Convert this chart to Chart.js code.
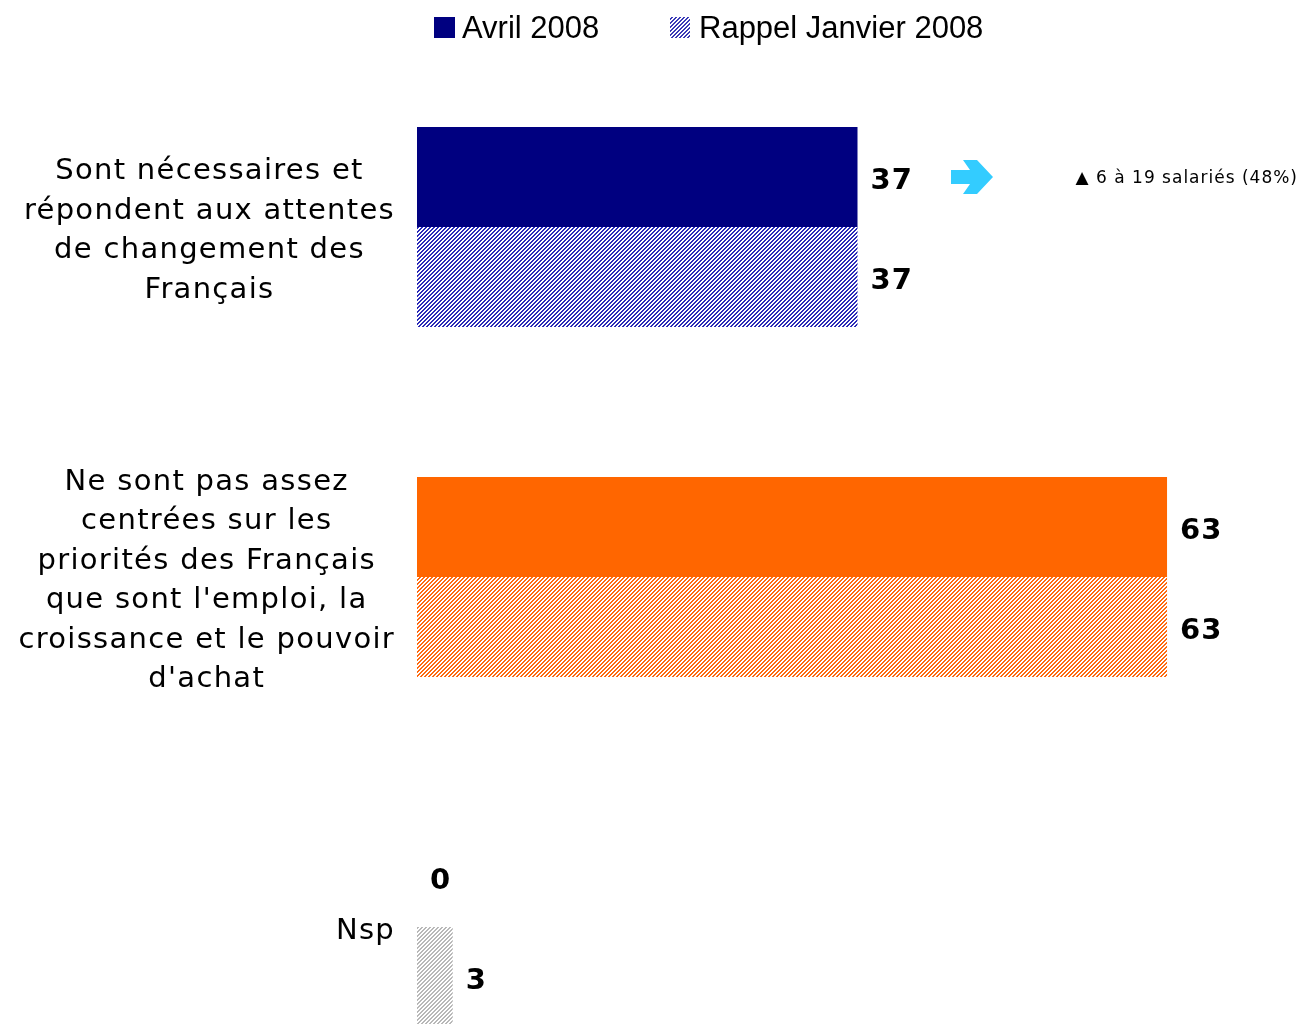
<!DOCTYPE html>
<html>
<head>
<meta charset="utf-8">
<script src="https://cdn.jsdelivr.net/npm/chart.js@4.4.0/dist/chart.umd.min.js"></script>
<style>
  html, body { margin: 0; padding: 0; background: #fff; overflow: hidden; }
  #wrap { width: 1301px; height: 1110px; position: relative; }
</style>
</head>
<body>
<div id="wrap"><canvas id="chart"></canvas></div>
<script>
// data
const categories = [
  ['Sont nécessaires et', 'répondent aux attentes', 'de changement des', 'Français'],
  ['Ne sont pas assez', 'centrées sur les', 'priorités des Français', "que sont l'emploi, la", 'croissance et le pouvoir', "d'achat"],
  ['Nsp']
];
const seriesNames = ['Avril 2008', 'Rappel Janvier 2008'];
const avril = [37, 63, 0];
const janvier = [37, 63, 3];
const annotation = '\u25B2 6 à 19 salariés (48%)';

// colours per category
const solidColors = ['#000080', '#FF6600', '#C0C0C0'];
const hatchColors = ['#2a2ab8', '#FF6a10', '#b8b8b8'];

// diagonal hatch "////" on white, about half covered
function hatch(color) {
  const c = document.createElement('canvas');
  c.width = 4; c.height = 4;
  const g = c.getContext('2d');
  g.fillStyle = '#ffffff';
  g.fillRect(0, 0, 4, 4);
  g.fillStyle = color;
  for (let x = 0; x < 4; x++) {
    for (let y = 0; y < 4; y++) {
      if ((x + y) % 4 < 2) g.fillRect(x, y, 1, 1);
    }
  }
  return g.createPattern(c, 'repeat');
}

const ctx = document.getElementById('chart').getContext('2d');
const hatchPatterns = hatchColors.map(hatch);

const labelFont = '29px "DejaVu Sans", Verdana, sans-serif';
const valueFont = 'bold 29px "DejaVu Sans", Verdana, sans-serif';

// draws category labels, value labels, legend and the side note
const decorations = {
  id: 'decorations',
  afterDraw(chart) {
    const g = chart.ctx;
    const yScale = chart.scales.y;
    g.save();

    // category labels: each block centred, block right edge on a common line
    g.font = labelFont;
    g.letterSpacing = '1.3px';
    g.fillStyle = '#000';
    g.textBaseline = 'middle';
    g.textAlign = 'center';
    const rightEdge = 395, lineH = 39.5;
    categories.forEach((lines, i) => {
      const yc = yScale.getPixelForValue(i) + 4;
      const w = Math.max(...lines.map(l => g.measureText(l).width));
      const cx = rightEdge - w / 2;
      lines.forEach((l, k) => {
        g.fillText(l, cx, yc + (k - (lines.length - 1) / 2) * lineH);
      });
    });

    // values at the end of each bar
    g.font = valueFont;
    g.letterSpacing = '1px';
    g.textAlign = 'left';
    chart.data.datasets.forEach((ds, di) => {
      chart.getDatasetMeta(di).data.forEach((bar, i) => {
        g.fillText(String(ds.data[i]), bar.x + 13, bar.y + 4);
      });
    });

    // arrow + note next to first bar
    const b0 = chart.getDatasetMeta(0).data[0];
    const ay = b0.y;
    g.fillStyle = '#33CCFF';
    g.beginPath();
    g.moveTo(951, ay - 7);
    g.lineTo(970, ay - 7);
    g.lineTo(963, ay - 17);
    g.lineTo(977, ay - 17);
    g.lineTo(993, ay);
    g.lineTo(977, ay + 17);
    g.lineTo(963, ay + 17);
    g.lineTo(970, ay + 7);
    g.lineTo(951, ay + 7);
    g.closePath();
    g.fill();
    g.fillStyle = '#000';
    g.font = '17px "DejaVu Sans", Verdana, sans-serif';
    g.letterSpacing = '1px';
    g.textAlign = 'right';
    g.fillText(annotation, 1298, ay + 2);

    // legend
    g.font = '31px "Liberation Sans", Arial, sans-serif';
    g.letterSpacing = '0px';
    g.textAlign = 'left';
    g.fillStyle = solidColors[0];
    g.fillRect(434, 17, 21, 21);
    g.fillStyle = hatch('#3a3ab8');
    g.fillRect(670, 17, 20, 21);
    g.fillStyle = '#000';
    g.fillText(seriesNames[0], 462, 29);
    g.fillText(seriesNames[1], 699, 29);

    g.restore();
  }
};

new Chart(ctx, {
  type: 'bar',
  data: {
    labels: categories,
    datasets: [
      {
        label: seriesNames[0],
        data: avril,
        backgroundColor: solidColors,
        categoryPercentage: 0.5714,
        barPercentage: 1
      },
      {
        label: seriesNames[1],
        data: janvier,
        backgroundColor: hatchPatterns,
        categoryPercentage: 0.5714,
        barPercentage: 1
      }
    ]
  },
  options: {
    indexAxis: 'y',
    responsive: true,
    maintainAspectRatio: false,
    animation: false,
    layout: { padding: { left: 417, right: 3, top: 52, bottom: 8 } },
    plugins: {
      legend: { display: false },
      tooltip: { enabled: false }
    },
    scales: {
      x: { display: false, min: 0, max: 74 },
      y: { display: false }
    }
  },
  plugins: [decorations]
});
</script>
</body>
</html>
